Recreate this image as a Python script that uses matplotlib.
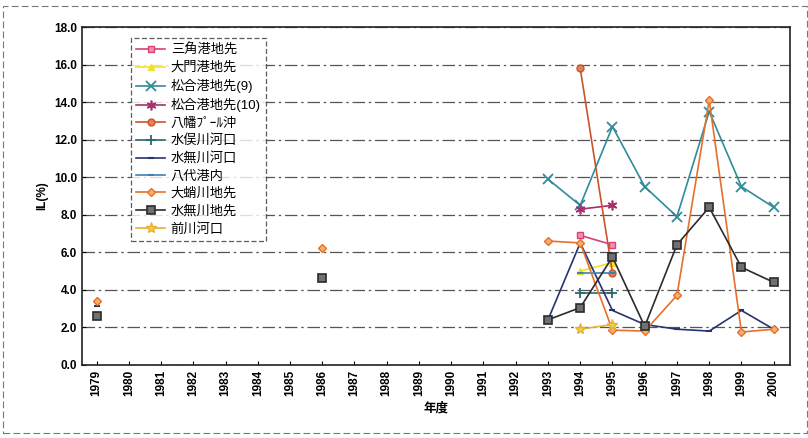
import numpy as np
import matplotlib
matplotlib.use("Agg")
import matplotlib.pyplot as plt

plt.rcParams['font.family'] = ['Liberation Sans', 'Noto Sans CJK JP', 'DejaVu Sans']

nan = np.nan
years = list(range(1979, 2001))

# values per year 1979..2000 (nan = no data)
def fill(d):
    return [d.get(y, nan) for y in years]

misumi = fill({1994: 6.9, 1995: 6.4})
daimon = fill({1994: 5.0, 1995: 5.45})
matsuai9 = fill({1993: 9.9, 1994: 8.5, 1995: 12.7, 1996: 9.5, 1997: 7.9,
                 1998: 13.5, 1999: 9.5, 2000: 8.4})
matsuai10 = fill({1994: 8.3, 1995: 8.5})
yahata = fill({1994: 15.8, 1995: 4.9})
minamata = fill({1994: 3.85, 1995: 3.85})
minashi_kako = fill({1979: 3.15, 1993: 2.4, 1994: 6.5, 1995: 2.9, 1996: 2.15,
                     1997: 1.9, 1998: 1.8, 1999: 2.9, 2000: 1.9})
yatsushiro = fill({1994: 4.9, 1995: 4.9})
ohtako = fill({1979: 3.4, 1986: 6.25, 1993: 6.6, 1994: 6.5, 1995: 1.85,
               1996: 1.8, 1997: 3.7, 1998: 14.1, 1999: 1.75, 2000: 1.9})
minashi_chisaki = fill({1979: 2.6, 1986: 4.65, 1993: 2.4, 1994: 3.05, 1995: 5.75,
                        1996: 2.05, 1997: 6.4, 1998: 8.4, 1999: 5.2, 2000: 4.4})
maekawa = fill({1994: 1.9, 1995: 2.15})

series = [
    ("三角港地先", misumi, dict(color="#d9407a", marker="s", mfc="#f090b0", ms=5)),
    ("大門港地先", daimon, dict(color="#f2e11e", marker="^", mfc="#f2e11e", ms=5)),
    ("松合港地先(9)", matsuai9, dict(color="#2f8c9a", marker="x", ms=7, mew=1.3)),
    ("松合港地先(10)", matsuai10, dict(color="#a8306a", marker=(6, 2, 0), ms=7, mew=1.2)),
    ("八幡ﾌﾟｰﾙ沖", yahata, dict(color="#c9542c", marker="o", mfc="#e0805a", ms=5)),
    ("水俣川河口", minamata, dict(color="#2a6870", marker="+", ms=7, mew=1.3)),
    ("水無川河口", minashi_kako, dict(color="#26356e", marker="_", ms=5, mew=1.5)),
    ("八代港内", yatsushiro, dict(color="#3a82b4", marker="_", ms=5, mew=1.5)),
    ("大蛸川地先", ohtako, dict(color="#e5702c", marker="D", mfc="#f5b070", ms=4.5)),
    ("水無川地先", minashi_chisaki, dict(color="#2b2b2b", marker="s", mfc="#707070", ms=5.5, mew=1.2)),
    ("前川河口", maekawa, dict(color="#e8b030", marker="*", mfc="#f0d040", ms=8)),
]

fig = plt.figure(figsize=(8.08, 4.38), dpi=100)
ax = fig.add_axes([0.1015, 0.167, 0.876, 0.771])

for name, vals, st in series:
    ax.plot(years, vals, label=name, lw=1.2, **st)

ax.set_xlim(1978.55, 2000.5)
ax.set_ylim(0, 18)
ax.set_yticks(np.arange(0, 18.1, 2))
ax.set_yticklabels([f"{v:.1f}" for v in np.arange(0, 18.1, 2)], fontsize=8.5, fontweight='bold')
ax.set_xticks(years)
ax.set_xticklabels([str(y) for y in years], rotation=90, fontsize=8.5, fontweight='bold')
ax.tick_params(axis='both', direction='in', length=3)
ax.yaxis.grid(True, color="#555555", lw=0.9, linestyle=(0, (10, 3, 2, 3)))
ax.set_axisbelow(True)
for sp in ax.spines.values():
    sp.set_linewidth(1.2)
    sp.set_color("#222222")

ax.set_ylabel("IL(%)", fontsize=8.5, fontweight='bold')
ax.set_xlabel("年度", fontsize=9, fontweight='bold')

leg = ax.legend(loc="upper left", bbox_to_anchor=(0.06, 0.986), fontsize=9.5,
                frameon=True, fancybox=False, handlelength=2.2,
                labelspacing=0.38, borderpad=0.4, handletextpad=0.4)
fr = leg.get_frame()
fr.set_edgecolor("#333333")
fr.set_linestyle((0, (4, 2)))
fr.set_linewidth(0.9)

# faint scanned page border
fig.add_artist(plt.Rectangle((0.004, 0.012), 0.995, 0.975, transform=fig.transFigure,
                             fill=False, ec="#777777", lw=0.8, ls=(0, (6, 3))))

fig.savefig("out.png", dpi=100)
